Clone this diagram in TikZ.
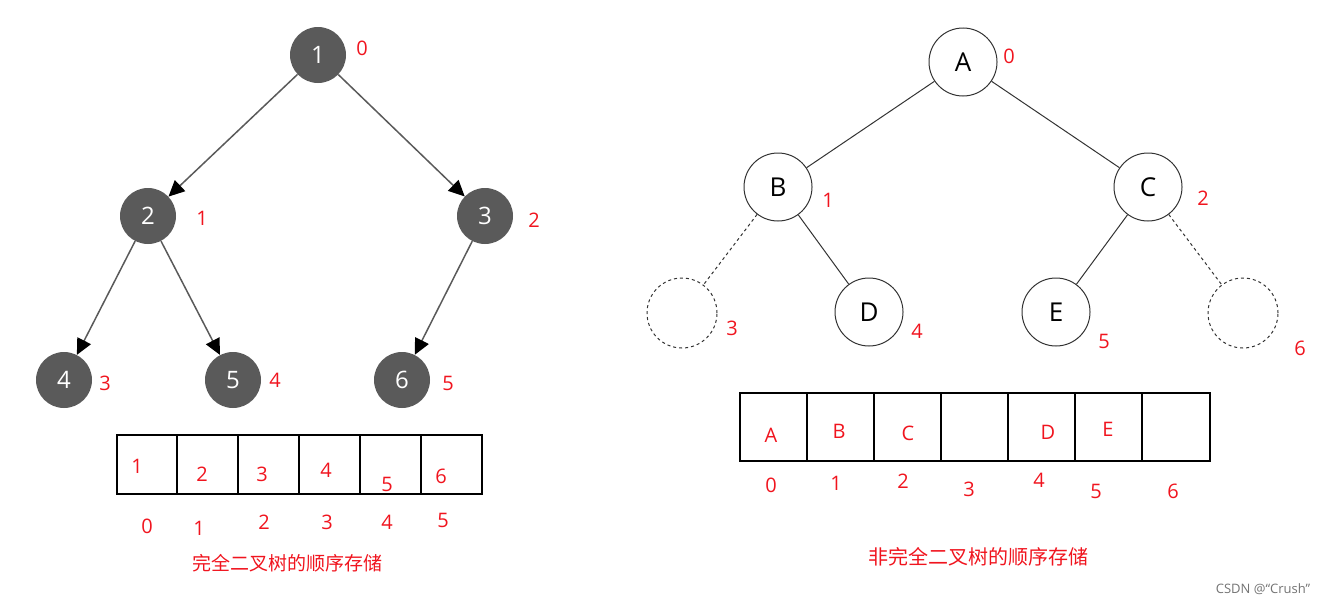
\documentclass[tikz,border=0pt]{standalone}
\usepackage{fontspec}
\setmainfont{Open Sans}
\newfontfamily\cjk{Noto Sans CJK SC}
\usetikzlibrary{arrows.meta}
\definecolor{nodegray}{HTML}{5A5A5A}
\definecolor{redtxt}{HTML}{F0141E}
\begin{document}
\begin{tikzpicture}[x=1pt,y=-1pt,
  full/.style={circle,fill=nodegray,minimum size=56pt,inner sep=0pt,text=white,font=\fontsize{24}{24}\selectfont},
  open/.style={circle,draw=black!80,line width=1pt,minimum size=68pt,inner sep=0pt,font=\fontsize{26}{26}\selectfont},
  ghost/.style={circle,draw=black!80,line width=1pt,dashed,minimum size=70pt,inner sep=0pt},
  idx/.style={text=redtxt,font=\fontsize{20}{20}\selectfont,inner sep=0pt},
  arr/.style={draw=nodegray,line width=1.5pt,-{Triangle[length=16pt,width=15pt,color=black]}},
  edge/.style={draw=black!80,line width=1pt},
  dedge/.style={edge,dashed},
  cell/.style={draw=black,line width=2.5pt}]
\useasboundingbox (0,0) rectangle (1337,605);
% left tree
\node[full] (n1) at (318,55) {1};
\node[full] (n2) at (148,216) {2};
\node[full] (n3) at (485,216) {3};
\node[full] (n4) at (64,380) {4};
\node[full] (n5) at (233,380) {5};
\node[full] (n6) at (402,380) {6};
\draw[arr] (n1) -- (n2);
\draw[arr] (n1) -- (n3);
\draw[arr] (n2) -- (n4);
\draw[arr] (n2) -- (n5);
\draw[arr] (n3) -- (n6);
\node[idx] (l0) at (362,48) {0};
\node[idx] (l1) at (202,218) {1};
\node[idx] (l2) at (534,220) {2};
\node[idx] (l3) at (105,383) {3};
\node[idx] (l4) at (275,380) {4};
\node[idx] (l5) at (448,383) {5};
\draw[cell] (117,435) rectangle (482,494);
\foreach \x in {177,238,299,360,421} \draw[cell] (\x,435) -- (\x,494);
\node[idx] (a1) at (137,466) {1};
\node[idx] (a2) at (202,474) {2};
\node[idx] (a3) at (262,474) {3};
\node[idx] (a4) at (326,470) {4};
\node[idx] (a5) at (387,484) {5};
\node[idx] (a6) at (441,476) {6};
\node[idx] (b0) at (147,526) {0};
\node[idx] (b1) at (199,528) {1};
\node[idx] (b2) at (264,522) {2};
\node[idx] (b3) at (327,522) {3};
\node[idx] (b4) at (387,522) {4};
\node[idx] (b5) at (443,520) {5};
\node[idx,font=\cjk\fontsize{19}{19}\selectfont] (cap1) at (287,563) {完全二叉树的顺序存储};
% right tree
\node[open] (A) at (963,62) {A};
\node[open] (B) at (778,187) {B};
\node[open] (C) at (1148,187) {C};
\node[ghost] (g3) at (682,313) {};
\node[open] (D) at (869,312) {D};
\node[open] (E) at (1056,312) {E};
\node[ghost] (g6) at (1243,313) {};
\draw[edge] (A) -- (B);
\draw[edge] (A) -- (C);
\draw[dedge] (B) -- (g3);
\draw[edge] (B) -- (D);
\draw[edge] (C) -- (E);
\draw[dedge] (C) -- (g6);
\node[idx] (r0) at (1009,56) {0};
\node[idx] (r1) at (828,200) {1};
\node[idx] (r2) at (1203,198) {2};
\node[idx] (r3) at (732,328) {3};
\node[idx] (r4) at (917,331) {4};
\node[idx] (r5) at (1104,341) {5};
\node[idx] (r6) at (1300,348) {6};
\draw[cell] (740,393) rectangle (1210,461);
\foreach \x in {807,874,941,1008,1075,1142} \draw[cell] (\x,393) -- (\x,461);
\node[idx] (cA) at (771,435) {A};
\node[idx] (cB) at (839,431) {B};
\node[idx] (cC) at (908,433) {C};
\node[idx] (cD) at (1048,432) {D};
\node[idx] (cE) at (1108,429) {E};
\node[idx] (d0) at (771,485) {0};
\node[idx] (d1) at (836,483) {1};
\node[idx] (d2) at (903,481) {2};
\node[idx] (d3) at (969,489) {3};
\node[idx] (d4) at (1039,480) {4};
\node[idx] (d5) at (1096,491) {5};
\node[idx] (d6) at (1173,491) {6};
\node[idx,font=\cjk\fontsize{20}{20}\selectfont] (cap2) at (978,557) {非完全二叉树的顺序存储};
\node[text=black!55,font=\fontsize{13}{13}\selectfont,inner sep=0pt] (wm) at (1263,589) {CSDN @“Crush”};
\end{tikzpicture}
\end{document}
